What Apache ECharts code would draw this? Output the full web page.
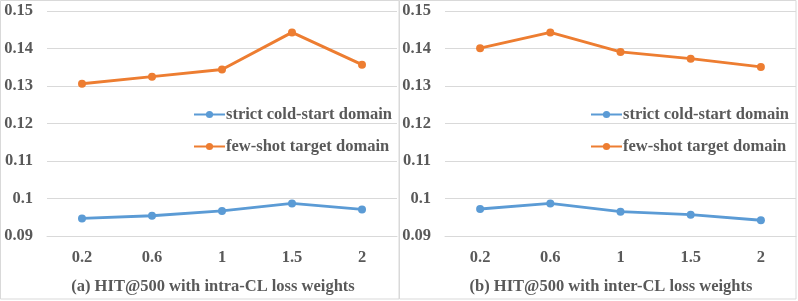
<!DOCTYPE html>
<html><head><meta charset="utf-8">
<script src="https://cdn.jsdelivr.net/npm/echarts@6/dist/echarts.min.js"></script>
<style>html,body{margin:0;padding:0;background:#fff}#c{width:798px;height:301px}</style>
</head><body><div id="c"></div>
<script>
var categories = ['0.2', '0.6', '1', '1.5', '2'];
var intraStrict = [0.0947, 0.0954, 0.0967, 0.0987, 0.0971];
var intraFewShot = [0.1306, 0.1325, 0.1344, 0.1443, 0.1357];
var interStrict = [0.0972, 0.0987, 0.0965, 0.0957, 0.0942];
var interFewShot = [0.1401, 0.1443, 0.1391, 0.1373, 0.1351];
var seriesNames = ['strict cold-start domain', 'few-shot target domain'];
var panelTitles = ['(a) HIT@500 with intra-CL loss weights', '(b) HIT@500 with inter-CL loss weights'];

var FONT = 'Liberation Serif';
var TXT = '#595959';
var BLUE = '#5B9BD5', ORANGE = '#ED7D31';

function xAx(i) {
  return {
    type: 'category', gridIndex: i, data: categories, boundaryGap: true,
    axisLine: {show: true, lineStyle: {color: '#d9d9d9', width: 1}},
    axisTick: {show: false},
    axisLabel: {margin: 13, color: TXT, fontFamily: FONT, fontWeight: 'bold', fontSize: 16.5}
  };
}
function yAx(i) {
  return {
    type: 'value', gridIndex: i, min: 0.09, max: 0.15, interval: 0.01,
    axisLine: {show: false}, axisTick: {show: false},
    splitLine: {lineStyle: {color: '#d9d9d9', width: 1}},
    axisLabel: {margin: 14, color: TXT, fontFamily: FONT, fontWeight: 'bold', fontSize: 16.5}
  };
}
function ser(name, data, color, i) {
  return {
    name: name, type: 'line', xAxisIndex: i, yAxisIndex: i, data: data,
    symbol: 'circle', symbolSize: 8,
    lineStyle: {color: color, width: 3}, itemStyle: {color: color},
    z: 3
  };
}
function leg(left) {
  return {
    data: seriesNames, orient: 'vertical', left: left, top: 101,
    itemWidth: 31, itemHeight: 9, itemGap: 15,
    textStyle: {color: TXT, fontFamily: FONT, fontWeight: 'bold', fontSize: 16.5, padding: [0, 0, 0, -4]}
  };
}

var chart = echarts.init(document.getElementById('c'), null, {renderer: 'canvas'});
chart.setOption({
  animation: false,
  backgroundColor: '#fff',
  grid: [
    {left: 47, top: 11, width: 350, height: 225},
    {left: 445, top: 11, width: 351, height: 225}
  ],
  xAxis: [xAx(0), xAx(1)],
  yAxis: [yAx(0), yAx(1)],
  legend: [leg(188), leg(585)],
  title: [
    {text: panelTitles[0], left: 208, top: 273, textAlign: 'center', textStyle: {color: TXT, fontFamily: FONT, fontWeight: 'bold', fontSize: 16.5}},
    {text: panelTitles[1], left: 606, top: 273, textAlign: 'center', textStyle: {color: TXT, fontFamily: FONT, fontWeight: 'bold', fontSize: 16.5}}
  ],
  graphic: [
    {type: 'rect', shape: {x: 0.5, y: 0.5, width: 398.5, height: 298.5}, style: {fill: null, stroke: '#d9d9d9', lineWidth: 1}, silent: true},
    {type: 'rect', shape: {x: 399.5, y: 0.5, width: 396.5, height: 298.5}, style: {fill: null, stroke: '#d9d9d9', lineWidth: 1}, silent: true}
  ],
  series: [
    ser(seriesNames[0], intraStrict, BLUE, 0),
    ser(seriesNames[1], intraFewShot, ORANGE, 0),
    ser(seriesNames[0], interStrict, BLUE, 1),
    ser(seriesNames[1], interFewShot, ORANGE, 1)
  ]
});
</script></body></html>
